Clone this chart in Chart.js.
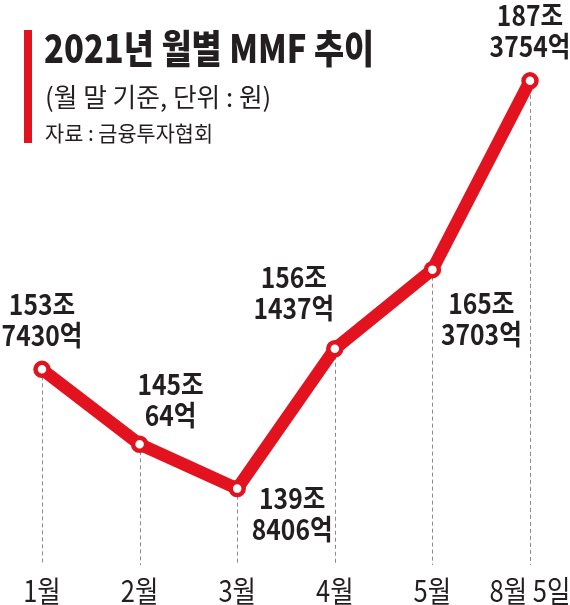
<!DOCTYPE html>
<html>
<head>
<meta charset="utf-8">
<script src="https://cdn.jsdelivr.net/npm/chart.js@4"></script>
<style>
  html, body { margin: 0; padding: 0; background: #ffffff; }
  #wrap { width: 570px; height: 605px; position: relative; }
</style>
</head>
<body>
<div id="wrap"><canvas id="c" width="570" height="605"></canvas></div>
<script>
// ---- data ----
const categories = ['1월', '2월', '3월', '4월', '5월', '8월 5일'];
// MMF balance, unit: 조원 (trillion won), month-end
const mmfValues = [153.7430, 145.0064, 139.8406, 156.1437, 165.3703, 187.3754];
const titleText = '2021년 월별 MMF 추이';
const subtitleText = '(월 말 기준, 단위 : 원)';
const sourceText = '자료 : 금융투자협회';

// ---- styles ----
const RED = '#e3121f';
const INK = '#231f20';
const FONT = '"Noto Sans CJK KR", "Noto Sans", sans-serif';
// label offsets relative to each point (first line center)
const labelOffsets = [[0, -65], [31, -60], [55, 10], [-41, -71], [49, 34], [0, -66]];

function splitLabel(v) {
  const jo = Math.floor(v);
  const eok = Math.round((v - jo) * 10000);
  return [jo + '조', eok + '억'];
}

function condensedText(ctx, text, x, y, factor, heavy) {
  const w = ctx.measureText(text).width * factor;
  if (heavy) {
    ctx.lineWidth = heavy;
    ctx.strokeStyle = ctx.fillStyle;
    ctx.lineJoin = 'round';
    ctx.strokeText(text, x, y, w);
  }
  ctx.fillText(text, x, y, w);
}

const decorPlugin = {
  id: 'decor',
  beforeDatasetsDraw(chart) {
    const ctx = chart.ctx;
    const meta = chart.getDatasetMeta(0);
    const bottom = 565;
    ctx.save();
    ctx.strokeStyle = '#8a8a8a';
    ctx.lineWidth = 1;
    ctx.setLineDash([4, 3]);
    meta.data.forEach(pt => {
      ctx.beginPath();
      ctx.moveTo(Math.round(pt.x) + 0.5, pt.y);
      ctx.lineTo(Math.round(pt.x) + 0.5, bottom);
      ctx.stroke();
    });
    ctx.restore();
  },
  afterDraw(chart) {
    const ctx = chart.ctx;
    const meta = chart.getDatasetMeta(0);
    const xScale = chart.scales.x;
    ctx.save();
    // title block
    ctx.fillStyle = RED;
    ctx.fillRect(24, 30, 8, 113);
    ctx.fillStyle = INK;
    ctx.textAlign = 'left';
    ctx.textBaseline = 'middle';
    ctx.font = '900 39px ' + FONT;
    condensedText(ctx, titleText, 44, 48, 0.84);
    ctx.font = '26px ' + FONT;
    condensedText(ctx, subtitleText, 45, 97, 0.99);
    ctx.font = '21px ' + FONT;
    condensedText(ctx, sourceText, 45, 133, 0.99);

    // value labels
    ctx.textAlign = 'center';
    ctx.font = 'bold 28px ' + FONT;
    meta.data.forEach((pt, i) => {
      const [l1, l2] = splitLabel(mmfValues[i]);
      const [dx, dy] = labelOffsets[i];
      condensedText(ctx, l1, pt.x + dx, pt.y + dy, 0.88);
      condensedText(ctx, l2, pt.x + dx, pt.y + dy + 31, 0.88);
    });

    // category labels along the x scale
    ctx.font = '30px ' + FONT;
    xScale.getLabels().forEach((lab, i) => {
      const x = xScale.getPixelForValue(i);
      condensedText(ctx, lab, x, 591, 0.85);
    });
    ctx.restore();
  }
};

new Chart(document.getElementById('c'), {
  type: 'line',
  data: {
    labels: categories,
    datasets: [{
      data: mmfValues,
      borderColor: RED,
      borderWidth: 12.5,
      borderJoinStyle: 'round',
      borderCapStyle: 'round',
      tension: 0,
      fill: false,
      clip: false,
      pointRadius: 6.5,
      pointBorderWidth: 4.5,
      pointBackgroundColor: '#ffffff',
      pointBorderColor: RED,
      pointHoverRadius: 6.5
    }]
  },
  options: {
    responsive: false,
    animation: false,
    devicePixelRatio: 1,
    layout: { padding: { left: 42, right: 40, top: 10, bottom: 45 } },
    plugins: { legend: { display: false }, tooltip: { enabled: false } },
    scales: {
      x: { display: false, offset: false },
      y: { display: false, min: 131.52, max: 195.52 }
    }
  },
  plugins: [decorPlugin]
});
</script>
</body>
</html>
